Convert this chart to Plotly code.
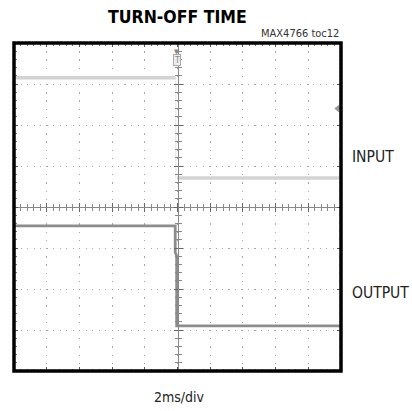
import plotly.graph_objects as go

# Data (time in ms, amplitude in divisions)
input_t = [0, 9.88, None, 9.97, 20]
input_v = [3.15, 3.15, None, 0.71, 0.71]
input_edge_t = [9.9, 9.9]
input_edge_v = [3.15, 0.71]
output_t = [0, 9.86, 9.86, 9.95, 9.95, 20]
output_v = [-0.46, -0.46, -1.1, -1.2, -2.9, -2.9]
time_range = [0, 20]
volt_range = [-4, 4]

fig = go.Figure()

# dummy traces so that overlay axes render
for xa, ya in [("x2", "y"), ("x3", "y"), ("x", "y2"), ("x", "y3")]:
    fig.add_trace(go.Scatter(x=[None], y=[None], xaxis=xa, yaxis=ya,
                             showlegend=False, hoverinfo="skip"))

fig.add_trace(go.Scatter(x=input_edge_t, y=input_edge_v, mode="lines",
                         line=dict(color="#e2e2e2", width=1), showlegend=False))
fig.add_trace(go.Scatter(x=input_t, y=input_v, mode="lines",
                         line=dict(color="#d3d3d3", width=3.5), showlegend=False))
fig.add_trace(go.Scatter(x=output_t, y=output_v, mode="lines",
                         line=dict(color="#8c8c8c", width=2.8), showlegend=False))
# right-side level marker
fig.add_trace(go.Scatter(x=[19.8], y=[2.4], mode="markers",
                         marker=dict(symbol="triangle-left", size=7, color="#999999"),
                         showlegend=False, cliponaxis=False))

common_x = dict(range=time_range, showticklabels=False, zeroline=False, fixedrange=True)
common_y = dict(range=volt_range, showticklabels=False, zeroline=False, fixedrange=True)

fig.update_layout(
    width=412, height=411,
    margin=dict(l=14, r=71, t=43, b=40),
    plot_bgcolor="white", paper_bgcolor="white",
    xaxis=dict(**common_x, showgrid=True, dtick=2, gridcolor="#a5a5a5", gridwidth=1.3,
               griddash="1.3px,6.9px", ticks="inside", ticklen=4, tickcolor="#555",
               mirror="ticks", showline=False,
               minor=dict(dtick=0.4, ticks="inside", ticklen=2.5, tickcolor="#777", showgrid=False)),
    yaxis=dict(**common_y, showgrid=True, dtick=1, gridcolor="#a5a5a5", gridwidth=1.3,
               griddash="1.3px,5.2px", ticks="inside", ticklen=4, tickcolor="#555",
               mirror="ticks", showline=False,
               minor=dict(dtick=0.2, ticks="inside", ticklen=2.5, tickcolor="#777", showgrid=False)),
    xaxis2=dict(**common_x, overlaying="x", anchor="free", position=0.5, showgrid=False,
                showline=True, linecolor="#888", linewidth=1, dtick=2,
                ticks="outside", ticklen=4, tickcolor="#666",
                minor=dict(dtick=0.4, ticks="outside", ticklen=3, tickcolor="#888")),
    xaxis3=dict(**common_x, overlaying="x", anchor="free", position=0.5, showgrid=False,
                showline=False, dtick=2,
                ticks="inside", ticklen=4, tickcolor="#666",
                minor=dict(dtick=0.4, ticks="inside", ticklen=3, tickcolor="#888")),
    yaxis2=dict(**common_y, overlaying="y", anchor="free", position=0.5, showgrid=False,
                showline=True, linecolor="#888", linewidth=1, dtick=1,
                ticks="outside", ticklen=4, tickcolor="#666",
                minor=dict(dtick=0.2, ticks="outside", ticklen=3, tickcolor="#888")),
    yaxis3=dict(**common_y, overlaying="y", anchor="free", position=0.5, showgrid=False,
                showline=False, dtick=1,
                ticks="inside", ticklen=4, tickcolor="#666",
                minor=dict(dtick=0.2, ticks="inside", ticklen=3, tickcolor="#888")),
    shapes=[dict(type="rect", xref="paper", yref="paper", x0=0, x1=1, y0=0, y1=1,
                 line=dict(color="black", width=3.5), layer="above")],
    font=dict(family="Liberation Sans Narrow, DejaVu Sans Condensed, Arial", color="#222"),
)

fig.add_annotation(text="<b>TURN-OFF TIME</b>", xref="paper", yref="paper",
                   x=0.5, y=1, yshift=26.5, showarrow=False, yanchor="middle",
                   font=dict(size=17.5, family="DejaVu Sans Condensed, Liberation Sans Narrow",
                             color="black"))
fig.add_annotation(text="MAX4766 toc12", xref="paper", yref="paper",
                   x=1, y=1, yshift=10, xanchor="right", showarrow=False, yanchor="middle",
                   font=dict(size=11, color="#333"))
fig.add_annotation(text="INPUT", xref="paper", yref="paper",
                   x=1, xshift=9, y=0.5 + 50 / 328, xanchor="left", showarrow=False,
                   font=dict(size=15.5, color="#222"))
fig.add_annotation(text="OUTPUT", xref="paper", yref="paper",
                   x=1, xshift=9, y=0.5 - 97 / 328, xanchor="left", showarrow=False,
                   font=dict(size=15.5, color="#222"))
fig.add_annotation(text="2ms/div", xref="paper", yref="paper",
                   x=0.5, xshift=2, y=0, yshift=-26, showarrow=False, yanchor="middle",
                   font=dict(size=14, color="#222"))
# trigger markers at top
fig.add_annotation(text="T", xref="x", yref="paper", x=9.95, y=1, yshift=-11,
                   showarrow=False, font=dict(size=9, color="#888"),
                   bordercolor="#aaa", borderwidth=1, borderpad=0, bgcolor="#eee")
fig.add_annotation(text="▼", xref="x", yref="paper", x=9.95, y=1, yshift=-3,
                   showarrow=False, font=dict(size=7, color="#888"))

fig.write_html("out.html", config={"displayModeBar": False},
               post_script="document.body.style.margin='0';")
